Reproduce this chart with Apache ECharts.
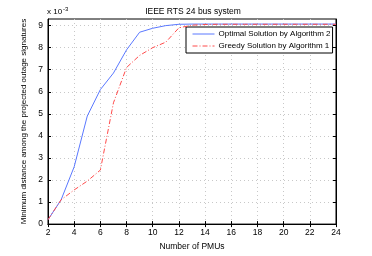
<!DOCTYPE html>
<html><head><meta charset="utf-8">
<script src="https://cdn.jsdelivr.net/npm/echarts@6/dist/echarts.min.js"></script>
<style>html,body{margin:0;padding:0;background:#fff}#c{width:372px;height:256px}</style>
</head><body><div id="c"></div>
<script>
var pmus = [2,3,4,5,6,7,8,9,10,11,12,13,14,15,16,17,18,19,20,21,22,23,24];
var optimal = [0.2,1.1,2.6,4.9,6.1,6.85,7.9,8.7,8.88,9.0,9.06,9.07,9.07,9.07,9.07,9.07,9.07,9.07,9.07,9.07,9.07,9.07,9.07];
var greedy = [0.2,1.1,1.55,1.95,2.45,5.5,7.1,7.65,8.0,8.25,8.9,9.02,9.05,9.06,9.06,9.06,9.06,9.06,9.06,9.06,9.06,9.06,9.06];
var xTicks = [2,4,6,8,10,12,14,16,18,20,22,24];
var yTicks = [0,1,2,3,4,5,6,7,8,9];
var FONT = 'Liberation Sans';
var chart = echarts.init(document.getElementById('c'));
function pairs(xs, ys){ return xs.map(function(x,i){return [x, ys[i]];}); }
var gridLine = {show:true, lineStyle:{color:'#c8c8c8', type:[1,3], width:1}};
chart.setOption({
  animation:false,
  textStyle:{fontFamily:FONT},
  graphic:[
    {type:'text', x:193, y:7, style:{text:'IEEE RTS 24 bus system', align:'center', fontFamily:FONT, fontSize:8.5, fill:'#000'}},
    {type:'text', left:47, top:6, style:{text:'{a|x 10}{b|-3}', rich:{a:{fontFamily:FONT,fontSize:8,fill:'#000'},b:{fontFamily:FONT,fontSize:6,fill:'#000',verticalAlign:'top',padding:[0,0,5,1]}}}}],
  grid:{left:48, right:36, top:19, bottom:29, show:true, borderColor:'#000', borderWidth:1},
  legend:{orient:'vertical', left:186, top:27, itemWidth:22, itemHeight:8, itemGap:4,
    padding:[3,2,3,6], backgroundColor:'#fff', borderColor:'#000', borderWidth:1,
    itemStyle:{opacity:0}, lineStyle:{width:1},
    textStyle:{fontFamily:FONT, fontSize:8, color:'#000', padding:[0,0,0,-1]},
    data:['Optimal Solution by Algorithm 2','Greedy Solution by Algorithm 1']},
  xAxis:[{type:'value', min:2, max:24, interval:2, name:'Number of PMUs', nameLocation:'middle', nameGap:15,
    nameTextStyle:{fontFamily:FONT, fontSize:8.5, color:'#000'},
    axisLine:{lineStyle:{color:'#000'}}, axisTick:{inside:true, length:3, lineStyle:{color:'#000'}},
    axisLabel:{fontFamily:FONT, fontSize:8.5, color:'#000', margin:4},
    splitLine:gridLine},
    {type:'value', min:2, max:24, interval:2, position:'top', axisLine:{lineStyle:{color:'#000'}},
    axisTick:{inside:true, length:3, lineStyle:{color:'#000'}}, axisLabel:{show:false}, splitLine:{show:false}}],
  yAxis:[{type:'value', min:0, max:9.3, interval:1, name:'Minimum distance among the projected outage signatures',
    nameLocation:'middle', nameGap:12, nameTextStyle:{fontFamily:FONT, fontSize:8, color:'#000'},
    axisLine:{lineStyle:{color:'#000'}}, axisTick:{inside:true, length:3, lineStyle:{color:'#000'}, customValues:yTicks},
    axisLabel:{fontFamily:FONT, fontSize:8.5, color:'#000', margin:5, customValues:yTicks},
    splitLine:gridLine},
    {type:'value', min:0, max:9.3, interval:1, position:'right', axisLine:{lineStyle:{color:'#000'}},
    axisTick:{inside:true, length:3, lineStyle:{color:'#000'}, customValues:yTicks}, axisLabel:{show:false}, splitLine:{show:false}}],
  series:[
    {name:'Optimal Solution by Algorithm 2', type:'line', data:pairs(pmus, optimal), symbol:'none', z:3,
      lineStyle:{color:'#5a78ff', width:1}, itemStyle:{color:'#5a78ff'}},
    {name:'Greedy Solution by Algorithm 1', type:'line', data:pairs(pmus, greedy), symbol:'none', z:4,
      lineStyle:{color:'#ff4a4a', width:1, type:[5,2,1,2]}, itemStyle:{color:'#ff4a4a'}}
  ]
});
</script></body></html>
